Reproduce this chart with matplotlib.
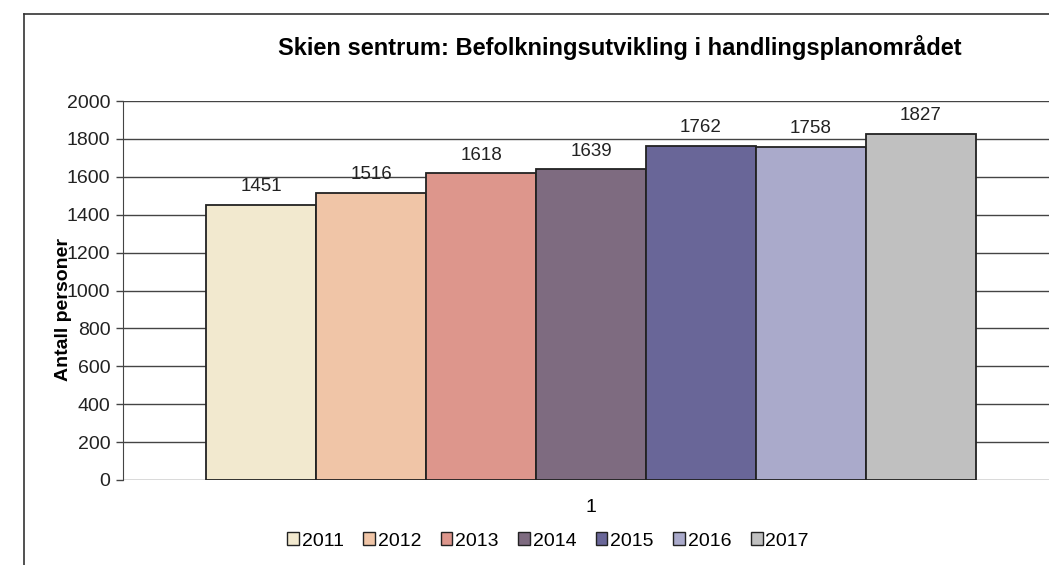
import numpy as np
import matplotlib.pyplot as plt
from matplotlib.lines import Line2D

years = ['2011', '2012', '2013', '2014', '2015', '2016', '2017']
values = [1451, 1516, 1618, 1639, 1762, 1758, 1827]
colors = ['#f2e9cf', '#f0c5a7', '#dd968c', '#7e6b80', '#696698', '#aaaacb', '#c0c0c0']

plt.rcParams['font.family'] = ['Liberation Sans', 'DejaVu Sans']

fig = plt.figure(figsize=(10.49, 5.65), dpi=100)
ax = fig.add_axes([123 / 1049, 85 / 565, 936 / 1049, 379 / 565])

n = len(values)
pos = np.arange(n) - (n - 1) / 2
bars = ax.bar(pos, values, width=1.0, color=colors, edgecolor='#222222', linewidth=1.3, zorder=3)
for x, v in zip(pos, values):
    ax.annotate(str(v), (x, v), xytext=(0, 7), textcoords='offset points',
                ha='center', va='bottom', fontsize=13.5, color='#222222')

ax.set_ylim(0, 2000)
ax.set_xlim(-4.255, 4.255)
ax.set_yticks(np.arange(0, 2001, 200))
ax.yaxis.grid(True, color='#444444', linewidth=1.0, zorder=0)
ax.set_xticks([0])
ax.set_xticklabels(['1'])
ax.tick_params(axis='x', length=0, pad=14, labelsize=14)
ax.tick_params(axis='y', length=5, width=1, color='#444444', labelsize=14, pad=4, labelcolor='#222222')
for s in ['top', 'right', 'bottom']:
    ax.spines[s].set_visible(False)
ax.spines['left'].set_color('#444444')
# label sits partly over the tick labels, as in the source chart
ax.set_ylabel('Antall personer', fontsize=14, fontweight='bold')
ax.yaxis.set_label_coords(-0.054, 0.449)

fig.text(620 / 1049, 1 - 48 / 565, 'Skien sentrum: Befolkningsutvikling i handlingsplanområdet',
         ha='center', va='center', fontsize=17, fontweight='bold')

# outer chart frame (cropped in the source picture)
fig.add_artist(Line2D([24 / 1049, 24 / 1049], [0, 1 - 14 / 565], transform=fig.transFigure,
                      color='#333333', linewidth=1.2))
fig.add_artist(Line2D([24 / 1049, 1], [1 - 14 / 565, 1 - 14 / 565], transform=fig.transFigure,
                      color='#333333', linewidth=1.2))

handles = [plt.Rectangle((0, 0), 1, 1, facecolor=c, edgecolor='#222222', linewidth=1.0) for c in colors]
fig.legend(handles, years, loc='center', bbox_to_anchor=(548 / 1049, 1 - 541 / 565), ncol=7,
           frameon=False, fontsize=14, handlelength=0.6, handleheight=0.6, handletextpad=0.15,
           columnspacing=1.0)

fig.savefig('out.png', dpi=100)
